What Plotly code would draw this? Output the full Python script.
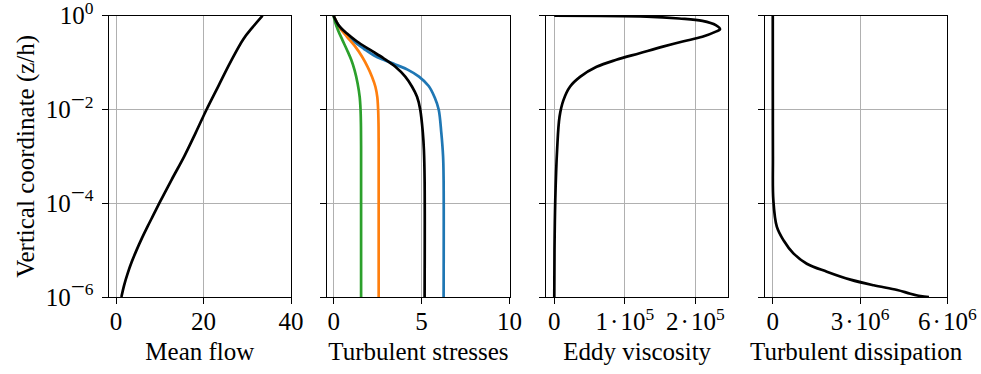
import plotly.graph_objects as go

# ---------------- data ----------------
# vertical coordinate stored as log10(z/h)
mean_log10z = [-6.0, -5.75, -5.5, -5.25, -5.0, -4.75, -4.5, -4.25, -4.0, -3.5, -3.0, -2.5, -2.0, -1.5, -1.0, -0.5, -0.25, 0.0]
mean_u = [1.23, 1.85, 2.65, 3.6, 4.7, 5.9, 7.2, 8.55, 9.9, 12.7, 15.6, 18.2, 20.7, 23.4, 26.1, 29.1, 31.2, 33.5]

blue_log10z = [-6.0, -3.5, -3.0, -2.5, -2.0, -1.75, -1.5, -1.3, -1.15, -1.04, -0.95, -0.85, -0.7, -0.55, -0.4, -0.25, -0.1, 0.0]
blue_val = [6.25, 6.25, 6.22, 6.12, 5.97, 5.75, 5.4, 4.85, 4.2, 3.5, 2.9, 2.3, 1.7, 1.15, 0.7, 0.35, 0.12, 0.0]

black_log10z = [-6.0, -3.5, -2.86, -2.5, -2.0, -1.73, -1.51, -1.30, -1.09, -0.91, -0.73, -0.55, -0.38, -0.20, 0.0]
black_val = [5.17, 5.17, 5.13, 5.07, 4.92, 4.74, 4.45, 4.07, 3.51, 2.84, 2.08, 1.33, 0.76, 0.28, 0.0]

orange_log10z = [-6.0, -2.8, -2.3, -2.01, -1.73, -1.51, -1.30, -1.09, -0.87, -0.66, -0.45, -0.24, 0.0]
orange_val = [2.56, 2.56, 2.55, 2.53, 2.48, 2.37, 2.18, 1.93, 1.61, 1.23, 0.76, 0.32, 0.0]

green_log10z = [-6.0, -2.8, -2.3, -2.01, -1.73, -1.44, -1.16, -0.94, -0.73, -0.52, -0.31, -0.13, 0.0]
green_val = [1.56, 1.56, 1.55, 1.53, 1.48, 1.36, 1.19, 1.0, 0.76, 0.50, 0.25, 0.08, 0.0]

eddy_log10z = [-6.0, -5.0, -3.93, -2.86, -2.15, -1.80, -1.51, -1.30, -1.09, -0.94, -0.80, -0.66, -0.55,
               -0.45, -0.34, -0.29, -0.20, -0.11, -0.06, -0.02, 0.0]
eddy_val = [0.0, 300, 1400, 4000, 7500, 13000, 22500, 37000, 60000, 88000, 121000, 154000, 182000,
            210000, 229000, 235000, 229000, 210000, 177000, 131000, 0.0]

diss_log10z = [-6.0, -5.98, -5.93, -5.85, -5.75, -5.63, -5.46, -5.29, -5.07, -4.79, -4.50, -3.93, -3.0, -2.0, -1.0, 0.0]
diss_val = [5.37e6, 5.08e6, 4.73e6, 4.28e6, 3.47e6, 2.67e6, 1.86e6, 1.17e6, 0.71e6, 0.37e6, 0.14e6, 0.02e6,
            0.006e6, 0.003e6, 0.002e6, 0.001e6]

MINUS = "<span style='font-size:25px'>\u2212</span>"
y_tickvals = [1e-6, 1e-4, 1e-2, 1]
y_ticktext = ["10<sup>" + MINUS + "6</sup>", "10<sup>" + MINUS + "4</sup>", "10<sup>" + MINUS + "2</sup>", "10<sup>0</sup>"]

SP = "\u200a"
x_titles = ["Mean flow", "Turbulent stresses", "Eddy viscosity", "Turbulent dissipation"]
x_tickvals = [[0, 20, 40], [0, 5, 10], [0, 1e5, 2e5], [0, 3e6, 6e6]]
x_ticktext = [["0", "20", "40"], ["0", "5", "10"],
              ["0", "1" + SP + "·" + SP + "10<sup>5</sup>", "2" + SP + "·" + SP + "10<sup>5</sup>"],
              ["0", "3" + SP + "·" + SP + "10<sup>6</sup>", "6" + SP + "·" + SP + "10<sup>6</sup>"]]
x_ranges = [[-1.67, 40.0001], [-0.36, 10.0001], [-11750, 246750], [-266000, 6.0001e6]]

# ---------------- figure ----------------
W, H = 981, 374
FONT = "Liberation Serif, Times New Roman, serif"
FS = 25
LW = 2.7


def z(vals):
    return [10 ** v for v in vals]


fig = go.Figure()
blue, orange, green = "#1f77b4", "#ff7f0e", "#2ca02c"
ls = dict(width=LW, shape="spline", smoothing=1.0)

fig.add_trace(go.Scatter(x=mean_u, y=z(mean_log10z), mode="lines", line=dict(color="black", **ls), xaxis="x", yaxis="y", showlegend=False))

for lz, v, c in [(blue_log10z, blue_val, blue), (orange_log10z, orange_val, orange),
                 (green_log10z, green_val, green), (black_log10z, black_val, "black")]:
    fig.add_trace(go.Scatter(x=v, y=z(lz), mode="lines", line=dict(color=c, **ls), xaxis="x2", yaxis="y2", showlegend=False))

fig.add_trace(go.Scatter(x=eddy_val, y=z(eddy_log10z), mode="lines", line=dict(color="black", **ls), xaxis="x3", yaxis="y3", showlegend=False))
fig.add_trace(go.Scatter(x=diss_val, y=z(diss_log10z), mode="lines", line=dict(color="black", **ls), xaxis="x4", yaxis="y4", showlegend=False))

left_px = [108.7, 327.3, 546.0, 765.0]
width_px = 182.3
top_px, bot_px = 15.7, 297.0
ydom = [1 - bot_px / H, 1 - top_px / H]

common_axis = dict(showline=True, linecolor="black", linewidth=1.4, mirror=True, automargin=False,
                   ticks="outside", ticklen=6, tickwidth=1.4, tickcolor="black",
                   showgrid=True, gridcolor="#b0b0b0", gridwidth=1.4, zeroline=False,
                   ticklabeloverflow="allow",
                   tickfont=dict(family=FONT, size=FS, color="black"))

layout = dict(width=W, height=H, margin=dict(l=0, r=0, t=0, b=0, autoexpand=False),
              paper_bgcolor="white", plot_bgcolor="white", hovermode=False,
              font=dict(family=FONT, size=FS, color="black"))

for i in range(4):
    sfx = "" if i == 0 else str(i + 1)
    xd = [left_px[i] / W, (left_px[i] + width_px) / W]
    layout["xaxis" + sfx] = dict(common_axis, domain=xd, anchor="y" + sfx, range=x_ranges[i],
                                  tickmode="array", tickvals=x_tickvals[i], ticktext=x_ticktext[i],
                                  ticklabelstandoff=-4,
                                  title=dict(text=x_titles[i], font=dict(family=FONT, size=FS), standoff=8))
    ya = dict(common_axis, domain=ydom, anchor="x" + sfx, type="log", range=[-6.00001, 0.00001],
              tickmode="array", tickvals=y_tickvals, ticktext=y_ticktext, showticklabels=(i == 0),
              ticklabelstandoff=3)
    if i == 0:
        ya["title"] = dict(text="Vertical coordinate (z/h)", font=dict(family=FONT, size=FS), standoff=3)
    layout["yaxis" + sfx] = ya

fig.update_layout(**layout)
# remove the browser's default 8 px body margin so the figure fills the window exactly
fig.write_html("out.html", config={"displayModeBar": False},
               post_script="document.body.style.margin='0';")
